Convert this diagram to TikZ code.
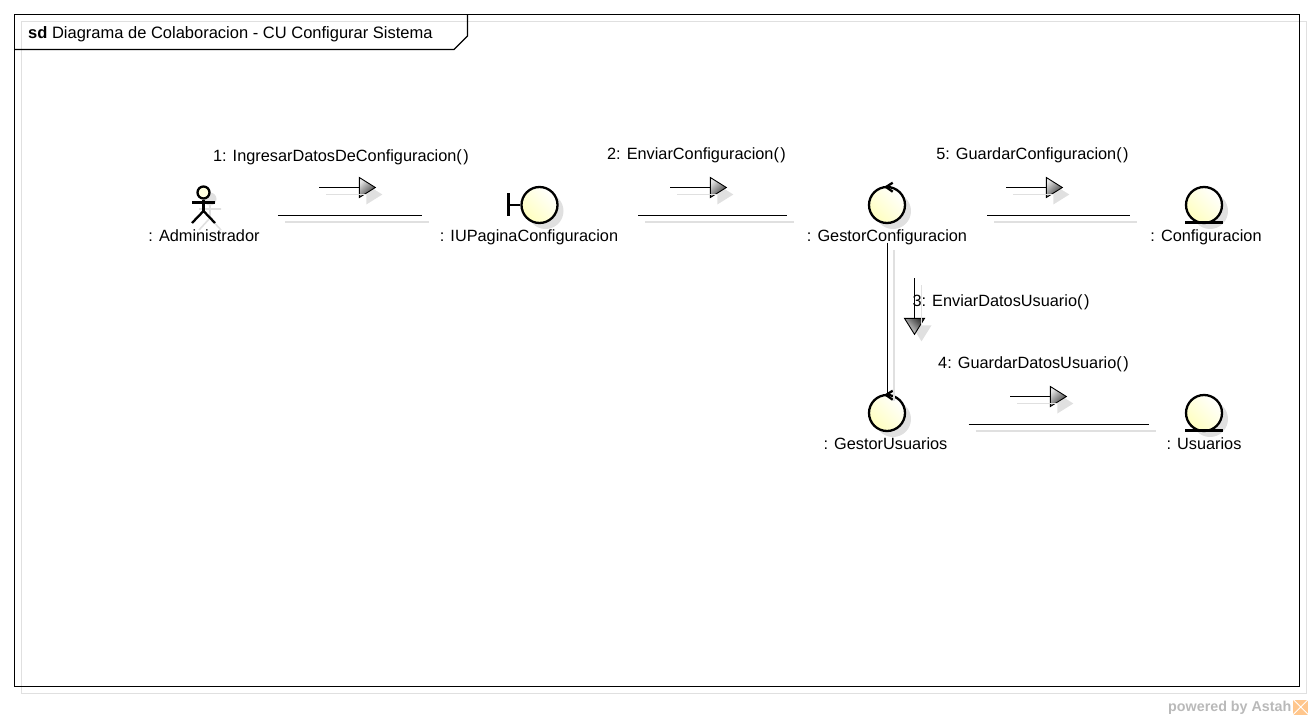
\documentclass[tikz,border=0pt]{standalone}
\usepackage{fontspec}
\setmainfont{Liberation Sans}
\usetikzlibrary{shapes.geometric,shadows}
\definecolor{shgray}{RGB}{224,224,224}
\definecolor{iconfill}{RGB}{255,255,225}
\begin{document}
\begin{tikzpicture}[x=1pt,y=-1pt]
	\tikzstyle{every node}+=[inner sep=0pt,font=\fontsize{16.3}{18}\selectfont]
	\tikzstyle{icon}=[circle,minimum size=36pt,draw=black,line width=2.3pt,left color=white,right color=iconfill!85!yellow,shading angle=-45,drop shadow={shadow xshift=6pt,shadow yshift=-6pt,fill=shgray,opacity=1}]
	\tikzstyle{iconline}=[draw=black,line width=2.3pt]
	\tikzstyle{link}=[draw=black,line width=1pt,preaction={draw=shgray,line width=1.2pt,transform canvas={xshift=7pt,yshift=-7pt}}]
	\tikzstyle{msgline}=[draw=black,line width=1.1pt,preaction={draw=shgray,line width=1pt,transform canvas={xshift=7pt,yshift=-7pt}}]
	\tikzstyle{msghead}=[isosceles triangle,isosceles triangle stretches,minimum height=16pt,minimum width=20pt,draw=black,line width=.9pt,left color=gray!20,right color=black!80,shading angle=45,drop shadow={shadow xshift=7pt,shadow yshift=-7pt,fill=shgray,opacity=1}]
	\useasboundingbox (0,0) rectangle (1313,720);
	% frame
	\draw [shgray,line width=1.2pt] (21.5,21.5) rectangle (1306.5,693.5);
	\draw [black,line width=1.2pt] (14.5,14.5) rectangle (1299.5,686.5);
	\draw [black,line width=1.2pt] (14.5,49.5) -- (454,49.5) -- (467.5,36) -- (467.5,14.5);
	\node [anchor=west,font=\fontsize{16.5}{18}\selectfont] (title) at (28,34) {\textbf{sd} Diagrama de Colaboracion - CU Configurar Sistema};
	% actor
	\fill [shgray] (210,199) circle (6.5);
	\draw [shgray,line width=1.6pt] (210,205) -- (210,218) (199,209) -- (221,209) (199,230) -- (210,218) -- (221,230);
	\node [circle,minimum size=12pt,draw=black,line width=2.3pt,fill=iconfill] (actorhead) at (203.5,192.5) {};
	\coordinate (actorhip) at (203.5,211);
	\draw [iconline] (actorhead.south) -- (actorhip);
	\draw [iconline] (192,202.5) -- (215,202.5);
	\draw [iconline] (192,223) -- (actorhip) -- (215,223);
	\node (admin) at (204,235.5) {: Administrador};
	% objects
	\node [icon] (iconIU) at (539.5,205) {};
	\draw [iconline] (iconIU.west) -- (508.5,205);
	\draw [iconline] (508.5,193) -- (508.5,216);
	\node (iupagina) at (529,236.8) {: IUPaginaConfiguracion};
	\node [icon] (ctlConf) at (887,205) {};
	\draw [iconline] (892.7,182.7) -- (886,187) -- (892.7,191.7);
	\node (gestorconf) at (887,236.8) {: GestorConfiguracion};
	\node [icon] (entConf) at (1204,205) {};
	\draw [iconline] (1185,222.5) -- (1223,222.5);
	\node (config) at (1206,236.8) {: Configuracion};
	\node [icon] (ctlUsr) at (887,413) {};
	\draw [iconline] (892.7,390.7) -- (886,395) -- (892.7,399.7);
	\node (gestorusr) at (885.5,443.5) {: GestorUsuarios};
	\node [icon] (entUsr) at (1204,413) {};
	\draw [iconline] (1185,430.5) -- (1223,430.5);
	\node (usuarios) at (1204,443.5) {: Usuarios};
	% links
	\draw [link] ([shift={(18,-20.5)}]admin.east) -- ([shift={(-18,-21.8)}]iupagina.west);
	\draw [link] ([shift={(20,-21.8)}]iupagina.east) -- ([shift={(-20,-21.8)}]gestorconf.west);
	\draw [link] ([shift={(20,-21.8)}]gestorconf.east) -- ([shift={(-20,-21.8)}]config.west);
	\draw [link] ([yshift=2pt]gestorconf.south) -- (ctlUsr.north);
	\draw [link] ([shift={(21,-19.5)}]gestorusr.east) -- ([shift={(-17,-19.5)}]usuarios.west);
	% messages
	\coordinate (m1) at (319,187.5);
	\node [msghead,anchor=apex] (h1) at (376.5,187.5) {};
	\draw [msgline] (m1) -- (h1.lower side);
	\node (t1) at (341,157.5) {1: IngresarDatosDeConfiguracion(\kern1.5pt)};
	\coordinate (m2) at (670,187.5);
	\node [msghead,anchor=apex] (h2) at (727.5,187.5) {};
	\draw [msgline] (m2) -- (h2.lower side);
	\node (t2) at (696.5,155.5) {2: EnviarConfiguracion(\kern1.5pt)};
	\coordinate (m5) at (1006,187.5);
	\node [msghead,anchor=apex] (h5) at (1063.5,187.5) {};
	\draw [msgline] (m5) -- (h5.lower side);
	\node (t5) at (1032.5,155.5) {5: GuardarConfiguracion(\kern1.5pt)};
	\coordinate (m3) at (914.5,278);
	\node [msghead,shape border rotate=-90,anchor=apex,shading angle=135] (h3) at (914.5,335.5) {};
	\draw [msgline] (m3) -- (h3.lower side);
	\node (t3) at (1001,302.5) {3: EnviarDatosUsuario(\kern1.5pt)};
	\coordinate (m4) at (1010,396.5);
	\node [msghead,anchor=apex] (h4) at (1067.5,396.5) {};
	\draw [msgline] (m4) -- (h4.lower side);
	\node (t4) at (1033.5,364.5) {4: GuardarDatosUsuario(\kern1.5pt)};
	% watermark
	\node [anchor=west,text=gray!55,font=\fontsize{14.3}{16}\bfseries\selectfont] (powered) at (1168,708) {powered by Astah};
	\node [anchor=west,fill=orange!45,minimum size=15pt] (astahlogo) at (1293,707) {};
	\draw [white,line width=1pt] (astahlogo.north west) -- (astahlogo.south east) (astahlogo.north east) -- (astahlogo.south west);
\end{tikzpicture}
\end{document}
